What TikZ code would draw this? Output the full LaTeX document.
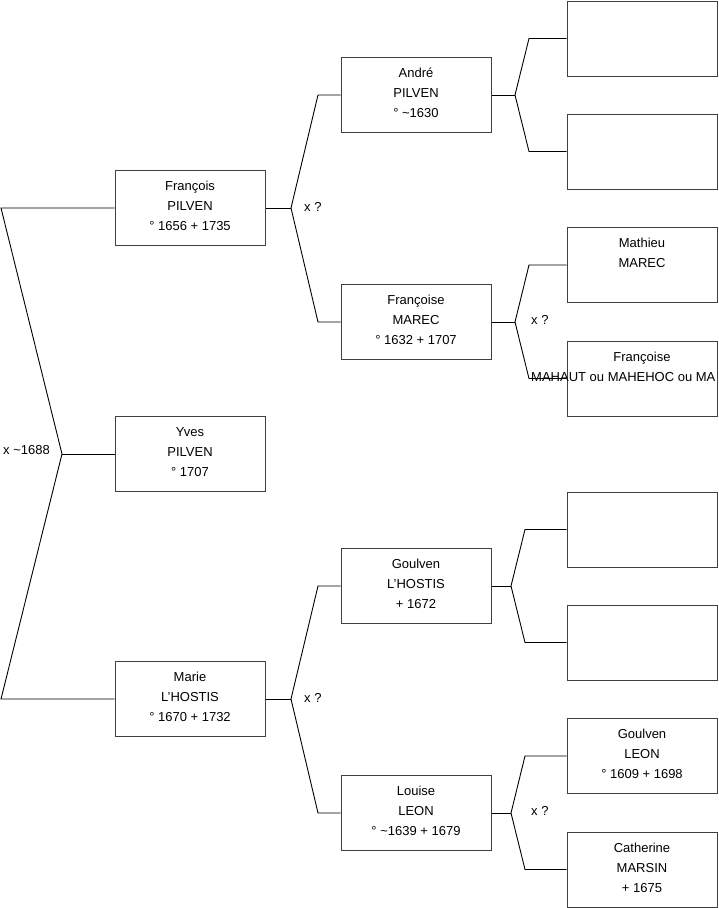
\documentclass[tikz,border=0pt]{standalone}
\usepackage{fontspec}
\setmainfont{Liberation Sans}
\newcommand{\pinfo}[1]{\parbox[c][75pt][t]{150pt}{\centering\vspace*{6.4pt}\strut #1}}
\begin{document}
\begin{tikzpicture}[x=1pt,y=-1pt,
  box/.style={draw=black!75, line width=1pt, minimum width=150pt, minimum height=75pt, inner sep=0pt, anchor=center, font=\fontsize{13}{20}\selectfont},
  conn/.style={draw=black, line width=0.9pt},
  lbl/.style={anchor=west, inner sep=0pt, font=\fontsize{13}{15}\selectfont}]
\useasboundingbox (0,0) rectangle (719,908);

% generation 1
\node[box] (fr) at (190,208) {\pinfo{François\\PILVEN\\° 1656 + 1735}};
\node[box] (yv) at (190,454) {\pinfo{Yves\\PILVEN\\° 1707}};
\node[box] (ma) at (190,699) {\pinfo{Marie\\L'HOSTIS\\° 1670 + 1732}};

% generation 2
\node[box] (an) at (416,95) {\pinfo{André\\PILVEN\\° \char126 1630}};
\node[box] (fm) at (416,322) {\pinfo{Françoise\\MAREC\\° 1632 + 1707}};
\node[box] (gh) at (416,586) {\pinfo{Goulven\\L'HOSTIS\\+ 1672}};
\node[box] (lo) at (416,813) {\pinfo{Louise\\LEON\\° \char126 1639 + 1679}};

% generation 3
\node[box] (e1) at (642,38.5) {};
\node[box] (e2) at (642,151.5) {};
\node[box] (mm) at (642,265) {\pinfo{Mathieu\\MAREC}};
\node[box] (fh) at (642,378.5) {\pinfo{Françoise}};
\node[anchor=base west, inner sep=0pt, font=\fontsize{13}{20}\selectfont] (fht) at (531,381.6) {MAHAUT ou MAHEHOC ou MA};
\node[box] (e3) at (642,529.5) {};
\node[box] (e4) at (642,642.5) {};
\node[box] (gl) at (642,756) {\pinfo{Goulven\\LEON\\° 1609 + 1698}};
\node[box] (cm) at (642,869.5) {\pinfo{Catherine\\MARSIN\\+ 1675}};

% fork coordinates
\coordinate (r0) at (62,454);
\coordinate (ra) at (1,208);
\coordinate (rb) at (1,699);

\coordinate (v1) at (291,208);
\coordinate (v1a) at (318,95);
\coordinate (v1b) at (318,322);

\coordinate (v2) at (291,699);
\coordinate (v2a) at (318,586);
\coordinate (v2b) at (318,813);

\coordinate (v3) at (515,95);
\coordinate (v3a) at (529,38.5);
\coordinate (v3b) at (529,151.5);

\coordinate (v4) at (515,322);
\coordinate (v4a) at (529,265);
\coordinate (v4b) at (529,378.5);

\coordinate (v5) at (511,586);
\coordinate (v5a) at (525,529.5);
\coordinate (v5b) at (525,642.5);

\coordinate (v6) at (511,813);
\coordinate (v6a) at (525,756);
\coordinate (v6b) at (525,869.5);

% connectors
\draw[conn] (fr.west) -- (ra) -- (r0) -- (rb) -- (ma.west);
\draw[conn] (r0) -- (yv.west);

\draw[conn] (an.west) -- (v1a) -- (v1) -- (v1b) -- (fm.west);
\draw[conn] (v1) -- (fr.east);

\draw[conn] (gh.west) -- (v2a) -- (v2) -- (v2b) -- (lo.west);
\draw[conn] (v2) -- (ma.east);

\draw[conn] (e1.west) -- (v3a) -- (v3) -- (v3b) -- (e2.west);
\draw[conn] (v3) -- (an.east);

\draw[conn] (mm.west) -- (v4a) -- (v4) -- (v4b) -- (fh.west);
\draw[conn] (v4) -- (fm.east);

\draw[conn] (e3.west) -- (v5a) -- (v5) -- (v5b) -- (e4.west);
\draw[conn] (v5) -- (gh.east);

\draw[conn] (gl.west) -- (v6a) -- (v6) -- (v6b) -- (cm.west);
\draw[conn] (v6) -- (lo.east);

% marriage labels
\node[lbl] (l0) at (3,450.5) {x \char126 1688};
\node[lbl] (l1) at (304,206.7) {x ?};
\node[lbl] (l2) at (304,698.3) {x ?};
\node[lbl] (l3) at (531,320) {x ?};
\node[lbl] (l4) at (531,810.5) {x ?};
\end{tikzpicture}
\end{document}
